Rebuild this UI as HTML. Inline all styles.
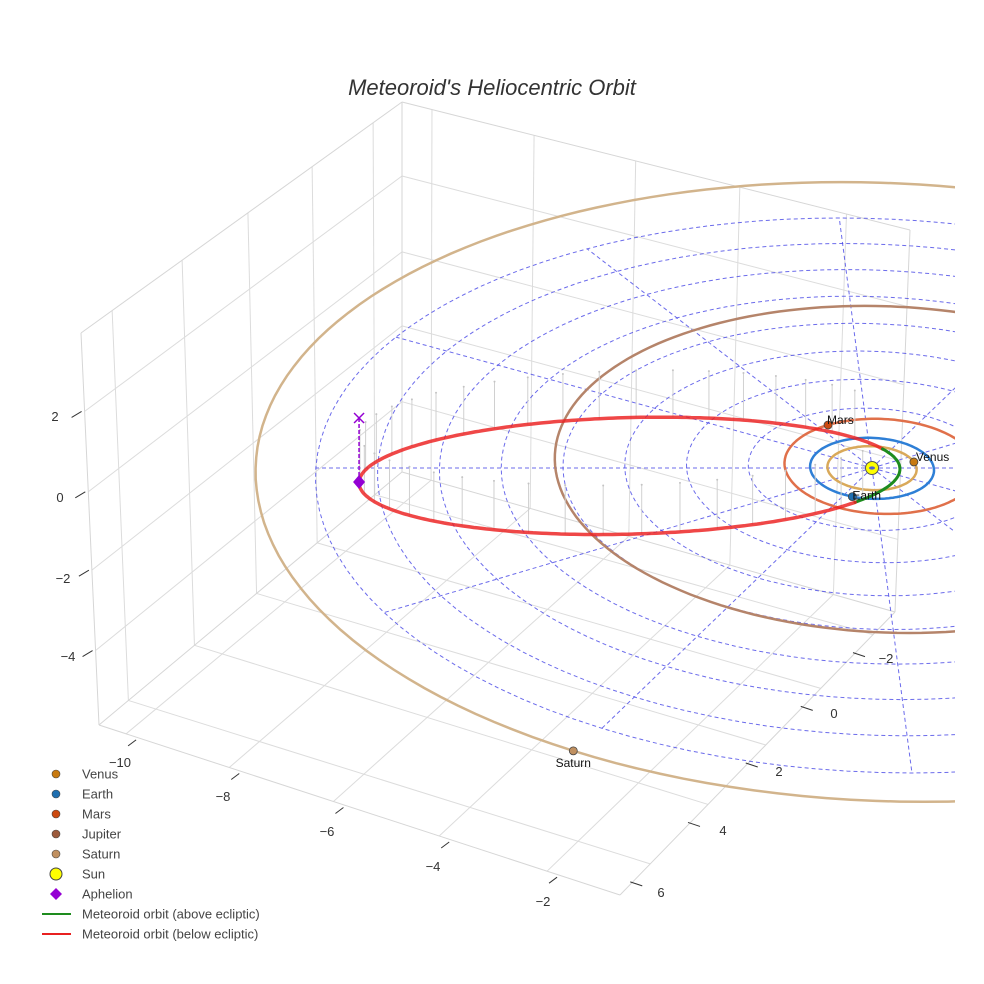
<!DOCTYPE html>
<html><head><meta charset="utf-8">
<style>
html,body{margin:0;padding:0;background:#fff;}
svg{display:block;font-family:"Liberation Sans",Arial,sans-serif;}
</style></head>
<body>
<svg id="chart" width="984" height="984" viewBox="0 0 984 984" xmlns="http://www.w3.org/2000/svg">
  <defs><clipPath id="sceneClip"><rect x="0" y="0" width="955" height="984"/></clipPath></defs>
  <text x="492" y="95" text-anchor="middle" font-size="22" font-style="italic" fill="#333">Meteoroid's Heliocentric Orbit</text>
  <g id="box"></g>
  <g id="scene" clip-path="url(#sceneClip)"></g>
  <g id="ticks"></g>
  <g id="legend"></g>
</svg>
<script>
// ---- data ----
const planetNames = ["Venus","Earth","Mars","Jupiter","Saturn"];
const orbitRadii = [0.72, 1.0, 1.56, 5.37, 10.1];
const orbitCenterU = [0, 0, 0.15, 0.24, 0.12];
const orbitCenterV = [0, 0, -0.08, -0.27, -0.34];
const planetAngles = [-16, 112, -120, -10, 120];
const orbitColors = ["#d9a95a","#2e7fd6","#e0704a","#b5846a","#d2b48c"];
const planetColors = ["#c87a10","#1f6fb0","#cc4a10","#9c5a3c","#c09060"];
const showLabel = [true,true,true,false,true];
const perihelion = 0.45;
const aphelion = 8.3;
const inclU = 0.0422;
const inclV = 0.0123;
const aphelionMarkZ = 1.25;
const gridRadii = [1,2,3,4,5,6,7,8,9];
const gridAngles = [0,30,60,90,120,150,180,210,240,270,300,330];
const xTicks = ["−10","−8","−6","−4","−2"];
const yTicks = ["−2","0","2","4","6"];
const zTicks = ["2","0","−2","−4"];

const NS = "http://www.w3.org/2000/svg";
function mk(tag, attrs, parent){ const e=document.createElementNS(NS,tag); for(const k in attrs) e.setAttribute(k,attrs[k]); parent.appendChild(e); return e; }

function proj(u,v,z){ const w=1-0.01101*v; return [872+(61.8*u+4*v)/w, 468+(30.53*v-40*z)/w]; }

// ---- box wireframe ----
const box=document.getElementById('box');
const TL=[81,333],BL=[99,725],TB=[402,102],BB=[402,472],TR=[910,230],BR=[895,612],F=[620,895];
function L(a,b,t){return [a[0]+(b[0]-a[0])*t,a[1]+(b[1]-a[1])*t];}
function gl(p,q,name,col){ const e=mk('line',{x1:p[0],y1:p[1],x2:q[0],y2:q[1],stroke:col||'#dcdcdc','stroke-width':1},box);
  
   }
const fy=[0.097,0.315,0.52,0.72,0.91], fx=[0.059,0.26,0.46,0.665,0.875], fxf=[0.052,0.25,0.45,0.653,0.86], gy=[0.11,0.32,0.53,0.73,0.92], fz=[0.2,0.405,0.605,0.81];
fy.forEach(f=>gl(L(TL,TB,f),L(BL,BB,f),'left-wall-grid'));
fz.forEach(f=>gl(L(TL,BL,f),L(TB,BB,f),'left-wall-grid'));
fx.forEach(f=>gl(L(TB,TR,f),L(BB,BR,f),'right-wall-grid'));
fz.forEach(f=>gl(L(TB,BB,f),L(TR,BR,f),'right-wall-grid'));
fxf.forEach((f,i)=>gl(L(BL,F,f),L(BB,BR,fx[i]),'floor-grid'));
gy.forEach((f,i)=>gl(L(F,BR,f),L(BL,BB,fy[i]),'floor-grid'));
[[TL,TB],[TB,TR],[TL,BL],[TB,BB],[TR,BR],[BL,BB],[BB,BR],[BL,F],[F,BR]].forEach(e=>gl(e[0],e[1],'box-edge','#d6d6d6'));

// ---- ticks ----
const tk=document.getElementById('ticks');
function tl(p,d,name){ const e=mk('line',{x1:p[0],y1:p[1],x2:p[0]+d[0],y2:p[1]+d[1],stroke:'#333','stroke-width':1},tk);
  
   }
function tt(x,y,s,name){ const e=mk('text',{x:x,y:y,'text-anchor':'middle','font-size':13,fill:'#333'},tk); e.textContent=s;
  
   }
const xLab=[[120,767],[223,801],[327,836],[433,871],[543,906]];
xTicks.forEach((s,i)=>{ const p=L(BL,F,fxf[i]); tl([p[0]+2,p[1]+12],[8,-6],'x-tick'); tt(xLab[i][0],xLab[i][1],s,'x-tick-label'); });
const yLab=[[886,663],[834,718],[779,776],[723,835],[661,897]];
yTicks.forEach((s,i)=>{ const p=L(F,BR,gy[4-i]); tl([p[0]-8,p[1]+22],[-12,-4],'y-tick'); tt(yLab[i][0],yLab[i][1],s,'y-tick-label'); });
const zLab=[[55,421],[60,502],[63,583],[68,661]];
zTicks.forEach((s,i)=>{ const p=L(TL,BL,fz[i]); tl([p[0]-3,p[1]],[-10,6],'z-tick'); tt(zLab[i][0],zLab[i][1],s,'z-tick-label'); });

// ---- scene ----
const sc=document.getElementById('scene');
function pathFrom(pts){ return pts.map((p,i)=>(i?'L':'M')+p[0].toFixed(1)+' '+p[1].toFixed(1)).join(' '); }
gridRadii.forEach(r=>{ const pts=[]; for(let a=0;a<=360;a+=3){const t=a*Math.PI/180; pts.push(proj(r*Math.cos(t),r*Math.sin(t),0));}
  const e=mk('path',{d:pathFrom(pts),fill:'none',stroke:'rgba(70,70,230,0.8)','stroke-width':1,'stroke-dasharray':'4,3'},sc);
  
   });
const gmax=gridRadii[gridRadii.length-1];
gridAngles.forEach(a=>{ const t=a*Math.PI/180; const p=proj(0,0,0), q=proj(gmax*Math.cos(t),-gmax*Math.sin(t),0);
  const e=mk('line',{x1:p[0],y1:p[1],x2:q[0],y2:q[1],stroke:'rgba(70,70,230,0.8)','stroke-width':1,'stroke-dasharray':'4,3'},sc);
  
   });
planetNames.forEach((n,i)=>{ const pts=[]; for(let a=0;a<=360;a+=2){const t=a*Math.PI/180; pts.push(proj(orbitCenterU[i]+orbitRadii[i]*Math.cos(t),orbitCenterV[i]+orbitRadii[i]*Math.sin(t),0));}
  const e=mk('path',{d:pathFrom(pts),fill:'none',stroke:orbitColors[i],'stroke-width':2.5},sc);
  
   });
const ma=(perihelion+aphelion)/2, mc=(perihelion-aphelion)/2, me=(aphelion-perihelion)/(aphelion+perihelion), mb=ma*Math.sqrt(1-me*me);
function mpt(E){ const u=mc+ma*Math.cos(E), v=mb*Math.sin(E); return [u,v,inclU*u+inclV*v]; }
for(let d=0;d<360;d+=8){ const E=d*Math.PI/180; const m=mpt(E); if(m[0]>-0.2) continue;
  const p=proj(m[0],m[1],m[2]), q=proj(m[0],m[1],m[2]+1.2);
  const e=mk('line',{x1:p[0],y1:p[1],x2:q[0],y2:q[1],stroke:'#d0d0d0','stroke-width':1},sc);
  
  
  const c=mk('circle',{cx:q[0],cy:q[1],r:1,fill:'#c4c4c4'},sc);
  
   }
let seg=[], segSign=null; const segs=[];
for(let d=0;d<=360;d+=1){ const m=mpt(d*Math.PI/180); const s=m[2]>=0; const p=proj(m[0],m[1],m[2]);
  if(segSign===null||s===segSign){seg.push(p);} else {seg.push(p); segs.push([segSign,seg]); seg=[p];}
  segSign=s; }
segs.push([segSign,seg]);
segs.forEach(s=>{ const e=mk('path',{d:pathFrom(s[1]),fill:'none',stroke:s[0]?'#1e8c1e':'rgba(235,30,30,0.82)','stroke-width':s[0]?3:3.5,'stroke-linecap':'round'},sc);
  
   });
const ap=mpt(Math.PI), apP=proj(ap[0],ap[1],ap[2]), apX=proj(ap[0],ap[1],aphelionMarkZ);
let e=mk('line',{x1:apP[0],y1:apP[1],x2:apX[0],y2:apX[1],stroke:'#9400d3','stroke-width':1.5,'stroke-dasharray':'4,2'},sc);


e=mk('path',{d:`M${apX[0]-5} ${apX[1]-5}L${apX[0]+5} ${apX[1]+5}M${apX[0]+5} ${apX[1]-5}L${apX[0]-5} ${apX[1]+5}`,stroke:'#9400d3','stroke-width':1.5},sc);


e=mk('path',{d:`M${apP[0]} ${apP[1]-7}L${apP[0]+6} ${apP[1]}L${apP[0]} ${apP[1]+7}L${apP[0]-6} ${apP[1]}Z`,fill:'#9400d3'},sc);


e=mk('circle',{cx:872,cy:468,r:6.5,fill:'#ffff00',stroke:'#555','stroke-width':1},sc);


e=mk('ellipse',{cx:872,cy:468,rx:3,ry:1.6,fill:'#5060d0'},sc);


planetNames.forEach((n,i)=>{ const t=planetAngles[i]*Math.PI/180; const p=proj(orbitCenterU[i]+orbitRadii[i]*Math.cos(t),orbitCenterV[i]+orbitRadii[i]*Math.sin(t),0);
  const c=mk('circle',{cx:p[0],cy:p[1],r:4,fill:planetColors[i],stroke:'#444','stroke-width':0.8},sc);
  
  
  if(showLabel[i]){ const lab=mk('text',{'font-size':12,fill:'#111'},sc); lab.textContent=n;
    if(n==='Saturn'){lab.setAttribute('x',p[0]);lab.setAttribute('y',p[1]+16);lab.setAttribute('text-anchor','middle');}
    else if(n==='Earth'){lab.setAttribute('x',p[0]);lab.setAttribute('y',p[1]+3);}
    else {lab.setAttribute('x',p[0]+(n==='Venus'?2:-1));lab.setAttribute('y',p[1]-1);}
    
     } });

// ---- legend ----
const lg=document.getElementById('legend');
const legendNames=["Venus","Earth","Mars","Jupiter","Saturn","Sun","Aphelion","Meteoroid orbit (above ecliptic)","Meteoroid orbit (below ecliptic)"];
legendNames.forEach((n,i)=>{ const y=774+i*20;
  let s;
  if(i<5){ s=mk('circle',{cx:56,cy:y,r:4,fill:planetColors[i],stroke:'#444','stroke-width':0.6},lg); }
  else if(i===5){ s=mk('circle',{cx:56,cy:y,r:6,fill:'#ffff00',stroke:'#444','stroke-width':1},lg); }
  else if(i===6){ s=mk('path',{d:`M56 ${y-6}L62 ${y}L56 ${y+6}L50 ${y}Z`,fill:'#9400d3'},lg); }
  else { s=mk('line',{x1:42,y1:y,x2:71,y2:y,stroke:i===7?'#1e8c1e':'#e82020','stroke-width':2},lg); }
  
  
  const t=mk('text',{x:82,y:y+4.5,'font-size':13,fill:'#444'},lg); t.textContent=n;
  
   });
</script>
</body></html>
